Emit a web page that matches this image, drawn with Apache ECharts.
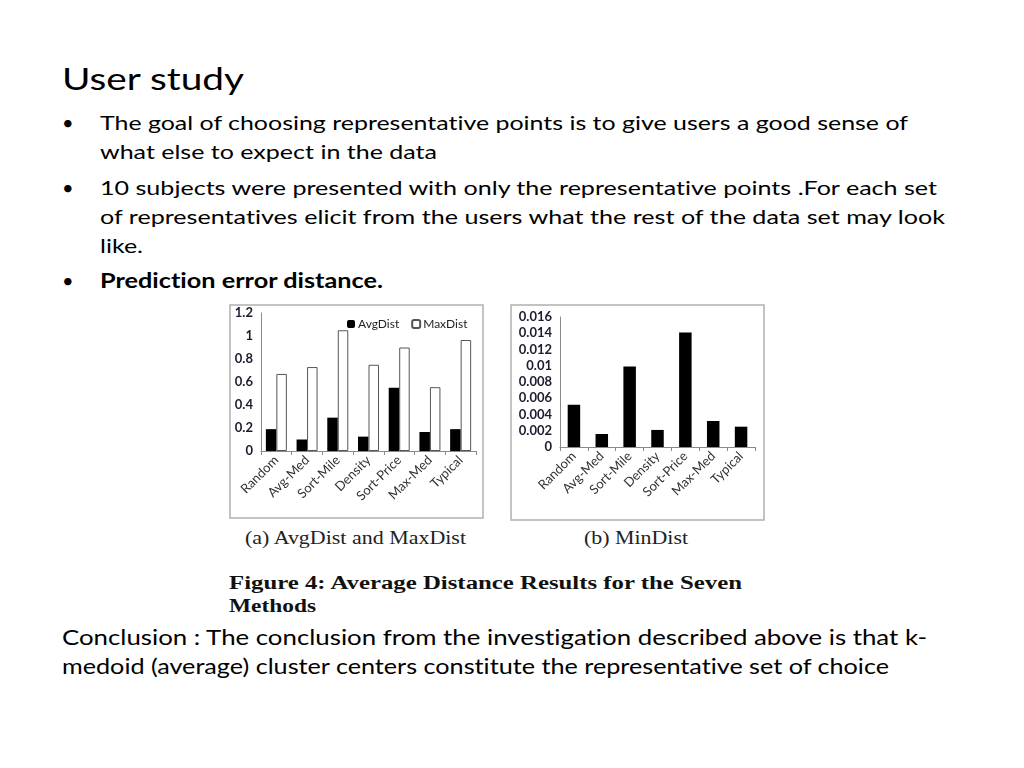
<!DOCTYPE html>
<html>
<head>
<meta charset="utf-8">
<script src="https://cdn.jsdelivr.net/npm/echarts@6/dist/echarts.min.js"></script>
<style>
  html, body { margin:0; padding:0; background:#fff; }
  #wrap { position:relative; width:1024px; height:768px; overflow:hidden; }
  #txt { position:absolute; left:0; top:0; font-variant-ligatures: none; font-feature-settings: "liga" 0, "clig" 0; }
  #chart { position:absolute; left:0; top:0; width:1024px; height:768px; }
</style>
</head>
<body>
<div id="wrap">
<svg id="txt" width="1024" height="768" xmlns="http://www.w3.org/2000/svg">
  <rect x="230" y="305" width="253" height="213" fill="#fff" stroke="#b0b0b0" stroke-width="1.5"/>
  <rect x="511" y="305" width="253" height="215" fill="#fff" stroke="#b0b0b0" stroke-width="1.5"/>
  <g font-family="Lato, 'Open Sans', sans-serif" fill="#000">
    <text x="62" y="90" font-size="31" textLength="182" lengthAdjust="spacingAndGlyphs">User study</text>
    <text x="62" y="130" font-size="20">•</text>
    <text x="100" y="130" font-size="20" textLength="808" lengthAdjust="spacingAndGlyphs">The goal of choosing representative points is to give users a good sense of</text>
    <text x="100" y="159" font-size="20" textLength="337" lengthAdjust="spacingAndGlyphs">what else to expect in the data</text>
    <text x="62" y="195" font-size="20">•</text>
    <text x="100" y="195" font-size="20" textLength="837" lengthAdjust="spacingAndGlyphs">10 subjects were presented with only the representative points .For each set</text>
    <text x="100" y="224" font-size="20" textLength="845" lengthAdjust="spacingAndGlyphs">of representatives elicit from the users what the rest of the data set may look</text>
    <text x="100" y="253" font-size="20" textLength="43" lengthAdjust="spacingAndGlyphs">like.</text>
    <text x="62" y="288" font-size="20">•</text>
    <text x="100" y="288" font-size="20" font-weight="bold" textLength="283" lengthAdjust="spacingAndGlyphs">Prediction error distance.</text>
    <text x="62" y="645" font-size="21" textLength="865" lengthAdjust="spacingAndGlyphs">Conclusion : The conclusion from the investigation described above is that k-</text>
    <text x="62" y="674" font-size="21" textLength="827" lengthAdjust="spacingAndGlyphs">medoid (average) cluster centers constitute the representative set of choice</text>
  </g>
  <g font-family="'Liberation Serif', 'DejaVu Serif', serif" fill="#222">
    <text x="245" y="544" font-size="18" textLength="221" lengthAdjust="spacingAndGlyphs">(a) AvgDist and MaxDist</text>
    <text x="584" y="544" font-size="18" textLength="104" lengthAdjust="spacingAndGlyphs">(b) MinDist</text>
    <text x="229" y="589" font-size="18" font-weight="bold" fill="#111" textLength="513" lengthAdjust="spacingAndGlyphs">Figure 4:  Average Distance Results for the Seven</text>
    <text x="229" y="612" font-size="18" font-weight="bold" fill="#111" textLength="87" lengthAdjust="spacingAndGlyphs">Methods</text>
  </g>
</svg>
<div id="chart"></div>
</div>
<script>
const categories = ['Random', 'Avg-Med', 'Sort-Mile', 'Density', 'Sort-Price', 'Max-Med', 'Typical'];
const avgDist = [0.19, 0.10, 0.29, 0.125, 0.55, 0.165, 0.19];
const maxDist = [0.67, 0.73, 1.05, 0.75, 0.90, 0.555, 0.965];
const minDist = [0.0052, 0.0016, 0.0099, 0.0021, 0.0141, 0.0032, 0.0025];
const yTicksA = { min: 0, max: 1.2, interval: 0.2 };
const yTicksB = { min: 0, max: 0.016, interval: 0.002 };

const chart = echarts.init(document.getElementById('chart'), null, { renderer: 'canvas' });
const font = 'Lato, "Open Sans", sans-serif';
const axisLineStyle = { color: '#8a8a8a', width: 1 };
const catAxis = (gridIndex) => ({
  type: 'category', gridIndex, data: categories,
  axisLine: { lineStyle: axisLineStyle },
  axisTick: { show: true, length: 4, lineStyle: axisLineStyle },
  axisLabel: { rotate: 45, fontFamily: font, fontSize: 13, color: '#333', margin: 7, interval: 0 }
});
const valAxis = (gridIndex, t) => ({
  type: 'value', gridIndex, min: t.min, max: t.max, interval: t.interval,
  axisLine: { show: true, lineStyle: axisLineStyle },
  axisTick: { show: false },
  splitLine: { show: false },
  axisLabel: { fontFamily: font, fontSize: 13, fontWeight: 'bold', color: '#1c1c30', margin: 8 }
});
chart.setOption({
  backgroundColor: 'transparent',
  animation: false,
  grid: [
    { left: 261, top: 313, width: 215, height: 138 },
    { left: 560, top: 317, width: 195, height: 130 }
  ],
  legend: {
    left: 342, top: 313, itemWidth: 8, itemHeight: 8, itemGap: 12,
    textStyle: { fontFamily: font, fontSize: 12, color: '#222', padding: [0, 0, 0, -2] },
    data: ['AvgDist', 'MaxDist']
  },
  xAxis: [catAxis(0), catAxis(1)],
  yAxis: [valAxis(0, yTicksA), valAxis(1, yTicksB)],
  series: [
    { name: 'AvgDist', type: 'bar', xAxisIndex: 0, yAxisIndex: 0, data: avgDist,
      barWidth: 10.5, barGap: '0%', itemStyle: { color: '#000' } },
    { name: 'MaxDist', type: 'bar', xAxisIndex: 0, yAxisIndex: 0, data: maxDist,
      barWidth: 10.5, barGap: '0%', itemStyle: { color: '#fff', borderColor: '#555', borderWidth: 1 } },
    { name: 'MinDist', type: 'bar', xAxisIndex: 1, yAxisIndex: 1, data: minDist,
      barWidth: 12.5, itemStyle: { color: '#000' } }
  ]
});
</script>
</body>
</html>
